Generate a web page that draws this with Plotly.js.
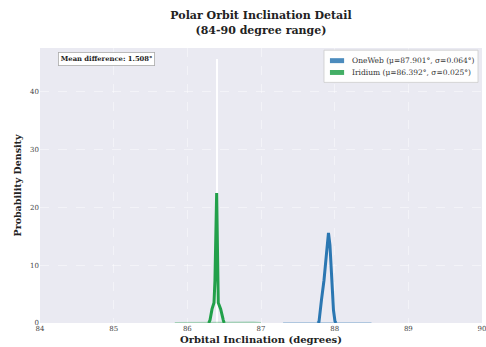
<!DOCTYPE html>
<html>
<head>
<meta charset="utf-8">
<script src="https://cdn.plot.ly/plotly-3.0.1.min.js"></script>
<style>html,body{margin:0;padding:0;background:#fff;}#chart{width:486px;height:347px;}</style>
</head>
<body>
<div id="chart"></div>
<script>
// Iridium KDE core
const iridiumX = [86.29, 86.308, 86.335, 86.362, 86.375, 86.398, 86.42, 86.453, 86.488, 86.5];
const iridiumY = [0.0, 0.5, 2.4, 3.5, 7.4, 22.5, 3.5, 2.4, 0.5, 0.0];
// Iridium faint tail along the baseline
const iridiumTailX = [85.83, 86.0, 86.2, 86.6, 86.7, 86.8, 86.9, 87.0];
const iridiumTailY = [0.08, 0.1, 0.12, 0.12, 0.2, 0.1, 0.15, 0.08];
// OneWeb KDE core
const onewebX = [87.77, 87.787, 87.821, 87.855, 87.889, 87.916, 87.936, 87.957, 87.984, 88.004, 88.02];
const onewebY = [0.0, 0.2, 4.0, 7.4, 12.0, 15.6, 13.5, 7.4, 2.2, 0.3, 0.0];
// OneWeb faint tail
const onewebTailX = [87.3, 87.6, 88.2, 88.5];
const onewebTailY = [0.08, 0.1, 0.1, 0.08];
// narrow histogram bar (white) at Iridium mode
const histX = [86.398];
const histY = [45.7];
const legendNames = ["OneWeb (μ=87.901°, σ=0.064°)", "Iridium (μ=86.392°, σ=0.025°)"];
const colors = ["#2b77b2", "#22a04a"];
const meanDiffText = "Mean difference: 1.508°";
const xTicks = [84, 85, 86, 87, 88, 89, 90];
const yTicks = [0, 10, 20, 30, 40];

const font = "DejaVu Serif";
const traces = [
  {type: "bar", x: histX, y: histY, width: 0.025, marker: {color: "rgba(255,255,255,0.95)", line: {width: 0}}, showlegend: false},
  {type: "scatter", mode: "lines", x: iridiumTailX, y: iridiumTailY, line: {color: colors[1], width: 1.2}, opacity: 0.35, showlegend: false},
  {type: "scatter", mode: "lines", x: onewebTailX, y: onewebTailY, line: {color: colors[0], width: 1.2}, opacity: 0.3, showlegend: false},
  {type: "scatter", mode: "lines", x: iridiumX, y: iridiumY, line: {color: colors[1], width: 3}, showlegend: false},
  {type: "scatter", mode: "lines", x: onewebX, y: onewebY, line: {color: colors[0], width: 3}, showlegend: false}
];

// manual legend (paper coords)
const shapes = [
  {type: "rect", xref: "paper", yref: "paper", x0: 0.6425, x1: 0.991, y0: 0.875, y1: 0.992, fillcolor: "rgba(255,255,255,0.92)", line: {color: "#cccccc", width: 0.8}},
  {type: "rect", xref: "paper", yref: "paper", x0: 0.656, x1: 0.688, y0: 0.945, y1: 0.963, fillcolor: colors[0], opacity: 0.85, line: {width: 0}},
  {type: "rect", xref: "paper", yref: "paper", x0: 0.656, x1: 0.688, y0: 0.902, y1: 0.920, fillcolor: colors[1], opacity: 0.85, line: {width: 0}}
];

const layout = {
  width: 486, height: 347,
  margin: {l: 40, r: 4, t: 48, b: 24},
  paper_bgcolor: "#ffffff",
  plot_bgcolor: "#eaeaf2",
  font: {family: font, size: 7, color: "#333"},
  title: {text: "<b>Polar Orbit Inclination Detail</b><br><b>(84-90 degree range)</b>", font: {family: font, size: 11, color: "#222"}, x: 0.537, xanchor: "center", y: 0.944, yanchor: "top"},
  xaxis: {range: [84, 90], tickvals: xTicks, ticktext: xTicks.map(String), ticklabeloverflow: "allow", showgrid: true, gridcolor: "rgba(255,255,255,0.75)", griddash: "dash", gridwidth: 0.6, zeroline: false, showline: false, ticks: "", tickfont: {family: font, size: 7, color: "#444"},
    title: {text: "<b>Orbital Inclination (degrees)</b>", font: {family: font, size: 10, color: "#222"}, standoff: 3}},
  yaxis: {range: [0, 47.6], tickvals: yTicks, ticktext: yTicks.map(String), showgrid: true, gridcolor: "rgba(255,255,255,0.75)", griddash: "dash", gridwidth: 0.6, zeroline: false, showline: false, ticks: "", tickfont: {family: font, size: 7, color: "#444"},
    title: {text: "<b>Probability Density</b>", font: {family: font, size: 9.5, color: "#222"}, standoff: 6}},
  showlegend: false,
  bargap: 0,
  shapes: shapes,
  annotations: [
    {text: "<b>" + meanDiffText + "</b>", xref: "paper", yref: "paper", x: 0.04, y: 0.985, xanchor: "left", yanchor: "top", showarrow: false, font: {family: font, size: 6.8, color: "#222"}, bgcolor: "#ffffff", bordercolor: "#aaaaaa", borderwidth: 0.8, borderpad: 2},
    {text: legendNames[0], xref: "paper", yref: "paper", x: 0.702, y: 0.954, xanchor: "left", yanchor: "middle", showarrow: false, font: {family: font, size: 7.5, color: "#333"}},
    {text: legendNames[1], xref: "paper", yref: "paper", x: 0.702, y: 0.911, xanchor: "left", yanchor: "middle", showarrow: false, font: {family: font, size: 7.5, color: "#333"}}
  ]
};

Plotly.newPlot("chart", traces, layout, {displayModeBar: false, staticPlot: true});
</script>
</body>
</html>
